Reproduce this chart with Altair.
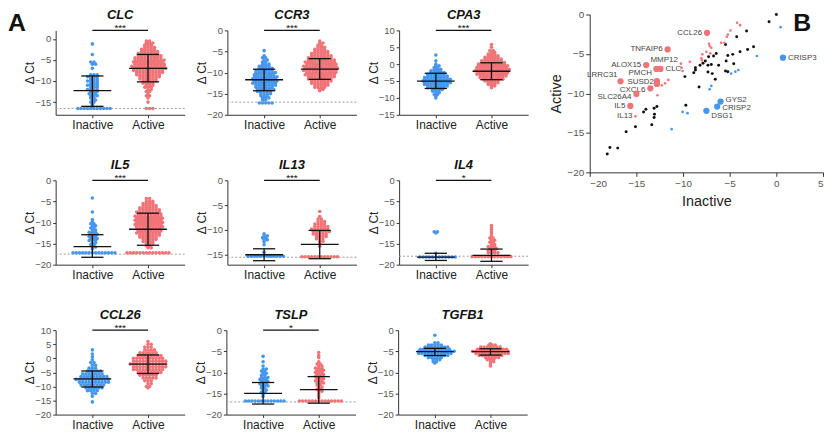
import altair as alt
import pandas as pd

FONT = "Liberation Sans"
BLUE = "#4696eb"
RED = "#f07378"
INK = "#111111"

# ---------------- Panel A data ----------------
GENES = ["CLC", "CCR3", "CPA3", "IL5", "IL13", "IL4", "CCL26", "TSLP", "TGFB1"]
Y_MIN = [-18, -20, -15, -20, -17, -20, -20, -20, -20]
Y_MAX = [2, 0, 10, 0, 0, 0, 10, 0, 0]
Y_TICKS = [
    [-15, -10, -5, 0],
    [-20, -15, -10, -5, 0],
    [-15, -10, -5, 0, 5, 10],
    [-20, -15, -10, -5, 0],
    [-15, -10, -5, 0],
    [-20, -15, -10, -5, 0],
    [-20, -15, -10, -5, 0, 5, 10],
    [-20, -15, -10, -5, 0],
    [-20, -15, -10, -5, 0],
]
LOD = [-16.5, -17, None, -17.5, -15.5, -18, None, -17, None]
SIG = ["***", "***", "***", "***", "***", "*", "***", "*", ""]

MEAN_IN = [-12.3, -11.7, -5.0, -15.7, -15.0, -18.2, -7.3, -15.0, -5.1]
SD_UP_IN = [-8.8, -9.2, -2.7, -12.9, -13.8, -17.3, -4.5, -12.4, -4.3]
SD_LO_IN = [-16.0, -14.3, -7.2, -18.25, -16.2, -19.0, -10.2, -17.5, -6.0]
MEAN_AC = [-7.0, -9.2, -2.1, -11.6, -12.9, -17.8, -2.1, -14.1, -5.1]
SD_UP_AC = [-3.7, -6.7, 0.4, -7.8, -10.1, -16.3, 1.2, -11.0, -4.4]
SD_LO_AC = [-10.2, -11.6, -4.6, -15.4, -15.8, -19.2, -5.4, -17.3, -5.9]

# (delta Ct level, number of samples at that level)
CLC_IN = [(-1.2, 1), (-3.7, 1), (-5.5, 2), (-6.0, 2), (-7.0, 1), (-8.5, 3), (-9.0, 4), (-9.5, 3), (-10.0, 4),
          (-10.5, 3), (-11.0, 4), (-11.5, 3), (-12.0, 4), (-12.5, 3), (-13.0, 3), (-13.5, 3), (-14.0, 2),
          (-14.5, 2), (-15.0, 2), (-15.5, 1), (-16.0, 1), (-16.5, 11)]
CLC_AC = [(-0.5, 2), (-1.0, 3), (-1.5, 3), (-2.0, 4), (-2.5, 5), (-3.0, 6), (-3.5, 7), (-4.0, 8), (-4.5, 9),
          (-5.0, 10), (-5.5, 10), (-6.0, 10), (-6.5, 11), (-7.0, 11), (-7.5, 10), (-8.0, 9), (-8.5, 8),
          (-9.0, 7), (-9.5, 6), (-10.0, 5), (-10.5, 4), (-11.0, 3), (-11.5, 3), (-12.0, 2), (-12.5, 2),
          (-13.0, 1), (-13.5, 2), (-14.0, 1), (-15.0, 1), (-16.5, 3)]
CCR3_IN = [(-4.8, 1), (-6.0, 1), (-6.5, 2), (-7.0, 2), (-7.5, 2), (-8.0, 3), (-8.5, 4), (-9.0, 5), (-9.5, 6),
           (-10.0, 7), (-10.5, 7), (-11.0, 8), (-11.5, 8), (-12.0, 8), (-12.5, 8), (-13.0, 7), (-13.5, 6),
           (-14.0, 6), (-14.5, 5), (-15.0, 4), (-15.5, 3), (-16.0, 3), (-16.5, 2), (-17.2, 5)]
CCR3_AC = [(-2.5, 1), (-3.0, 2), (-3.5, 2), (-4.0, 3), (-4.5, 4), (-5.0, 5), (-5.5, 6), (-6.0, 7), (-6.5, 8),
           (-7.0, 9), (-7.5, 10), (-8.0, 10), (-8.5, 11), (-9.0, 11), (-9.5, 11), (-10.0, 10), (-10.5, 10),
           (-11.0, 9), (-11.5, 8), (-12.0, 7), (-12.5, 6), (-13.0, 5), (-13.5, 4), (-14.0, 2), (-14.3, 1)]
CPA3_IN = [(2.7, 1), (1.0, 1), (0.0, 1), (-0.5, 2), (-1.0, 2), (-1.5, 3), (-2.0, 4), (-2.5, 5), (-3.0, 6),
           (-3.5, 7), (-4.0, 8), (-4.5, 9), (-5.0, 9), (-5.5, 9), (-6.0, 8), (-6.5, 7), (-7.0, 6), (-7.5, 4),
           (-8.0, 3), (-8.5, 2), (-9.0, 2), (-9.5, 1), (-10.0, 1)]
CPA3_AC = [(5.8, 1), (5.0, 1), (4.0, 2), (3.5, 2), (3.0, 3), (2.5, 4), (2.0, 5), (1.5, 6), (1.0, 7), (0.5, 8),
           (0.0, 9), (-0.5, 10), (-1.0, 10), (-1.5, 11), (-2.0, 11), (-2.5, 10), (-3.0, 10), (-3.5, 9),
           (-4.0, 8), (-4.5, 7), (-5.0, 5), (-5.5, 4), (-6.0, 3), (-6.5, 2), (-7.0, 1)]
IL5_IN = [(-4.2, 1), (-7.5, 1), (-9.3, 1), (-9.8, 1), (-10.3, 2), (-10.8, 2), (-11.3, 2), (-11.8, 2), (-12.3, 3),
          (-12.8, 3), (-13.3, 3), (-13.8, 3), (-14.3, 3), (-14.8, 2), (-15.3, 2), (-15.8, 2), (-16.3, 1),
          (-17.2, 14)]
IL5_AC = [(-4.3, 2), (-5.0, 3), (-5.5, 4), (-6.0, 5), (-6.5, 6), (-7.0, 7), (-7.5, 8), (-8.0, 8), (-8.5, 9),
          (-9.0, 9), (-9.5, 9), (-10.0, 9), (-10.5, 9), (-11.0, 9), (-11.5, 8), (-12.0, 8), (-12.5, 8),
          (-13.0, 7), (-13.5, 6), (-14.0, 5), (-14.5, 4), (-15.0, 3), (-15.5, 2), (-16.0, 2), (-17.2, 14)]
IL13_IN = [(-10.8, 1), (-11.2, 2), (-11.6, 2), (-12.0, 2), (-12.4, 1), (-13.0, 1), (-14.5, 1), (-15.3, 12)]
IL13_AC = [(-6.3, 1), (-7.3, 1), (-7.8, 2), (-8.3, 3), (-8.8, 4), (-9.3, 5), (-9.8, 6), (-10.3, 6), (-10.8, 5),
           (-11.3, 4), (-11.8, 3), (-12.3, 2), (-12.8, 1), (-13.3, 1), (-15.4, 12)]
IL4_IN = [(-12.2, 2), (-12.5, 1), (-17.3, 1), (-18.2, 12)]
IL4_AC = [(-10.7, 1), (-11.2, 1), (-11.7, 1), (-12.2, 1), (-12.7, 1), (-13.2, 1), (-13.7, 2), (-14.2, 2),
          (-14.7, 2), (-15.2, 2), (-15.7, 3), (-16.2, 3), (-16.7, 3), (-17.2, 4), (-18.1, 13)]
CCL26_IN = [(3.0, 1), (1.5, 1), (0.5, 1), (-0.5, 1), (-1.5, 2), (-2.5, 2), (-3.5, 3), (-4.5, 5), (-5.5, 7),
            (-6.5, 9), (-7.5, 11), (-8.5, 10), (-9.5, 8), (-10.5, 6), (-11.5, 4), (-12.5, 2), (-13.5, 1),
            (-15.5, 1)]
CCL26_AC = [(6.0, 1), (5.0, 2), (4.0, 3), (3.0, 4), (2.0, 6), (1.0, 8), (0.0, 10), (-1.0, 11), (-2.0, 12),
            (-3.0, 11), (-4.0, 10), (-5.0, 8), (-6.0, 6), (-7.0, 5), (-8.0, 3), (-9.0, 2), (-10.0, 2),
            (-10.5, 1)]
TSLP_IN = [(-6.2, 1), (-7.5, 1), (-8.5, 1), (-9.2, 2), (-9.7, 2), (-10.2, 2), (-10.7, 2), (-11.2, 3), (-11.7, 3),
           (-12.2, 3), (-12.7, 3), (-13.2, 3), (-13.7, 2), (-14.2, 2), (-14.7, 2), (-15.2, 1), (-15.7, 1),
           (-16.8, 13)]
TSLP_AC = [(-5.3, 1), (-6.0, 1), (-6.5, 1), (-7.5, 1), (-8.0, 2), (-8.5, 2), (-9.0, 3), (-9.5, 3), (-10.0, 3),
           (-10.5, 3), (-11.0, 3), (-11.5, 3), (-12.0, 3), (-12.5, 3), (-13.0, 2), (-13.5, 2), (-14.0, 2),
           (-14.5, 2), (-15.0, 1), (-15.5, 1), (-16.0, 1), (-16.8, 14)]
TGFB1_IN = [(-1.2, 1), (-3.0, 2), (-3.5, 5), (-4.0, 8), (-4.5, 10), (-5.0, 12), (-5.5, 11), (-6.0, 8), (-6.5, 5),
            (-7.0, 3), (-7.5, 2), (-7.8, 1)]
TGFB1_AC = [(-3.2, 1), (-3.5, 3), (-4.0, 7), (-4.5, 10), (-5.0, 12), (-5.5, 11), (-6.0, 8), (-6.5, 5), (-7.0, 3),
            (-7.5, 2), (-8.0, 1), (-8.5, 1)]

POINTS_IN = [CLC_IN, CCR3_IN, CPA3_IN, IL5_IN, IL13_IN, IL4_IN, CCL26_IN, TSLP_IN, TGFB1_IN]
POINTS_AC = [CLC_AC, CCR3_AC, CPA3_AC, IL5_AC, IL13_AC, IL4_AC, CCL26_AC, TSLP_AC, TGFB1_AC]

# ---------------- Panel B data ----------------
B_BLACK_X = [0, -0.78, -3.19, -4.25, -5.45, -2.44, -3.08, -3.89, -4.67, -5.2, -6.44, -6.73, -7.26, -7.61, -7.86,
             -7.33, -6.97, -8.18, -8.67, -8.67, -8.85, -7.33, -6.87, -6.19, -5.38, -4.57, -5.45, -5.2, -6.55,
             -9.8, -8.28, -9.7, -12.8, -13.1, -13.06, -13.1, -13.98, -14.23, -15.1, -13.35, -16.1, -17.84,
             -17.0, -18.12]
B_BLACK_Y = [0, -0.93, -2.1, -2.82, -3.79, -4.08, -4.42, -4.72, -5.05, -5.18, -4.93, -5.26, -5.35, -5.89, -6.19,
             -6.44, -6.32, -6.44, -6.74, -7.03, -7.37, -7.28, -7.49, -6.44, -5.89, -6.23, -7.16, -7.24, -8.21,
             -7.87, -9.18, -11.5, -11.66, -11.87, -12.63, -13.05, -12.0, -12.34, -14.23, -13.98, -14.86, -16.84,
             -16.93, -17.68]
B_PINK_X = [-4.21, -3.89, -4.92, -5.2, -5.31, -5.91, -5.56, -7.22, -7.15, -6.97, -7.5, -7.08, -7.93, -8.04,
            -7.97, -9.27, -10.23, -10.16, -10.05, -11.58, -11.93, -12.28, -12.74]
B_PINK_Y = [-1.05, -1.35, -2.02, -2.53, -2.82, -3.58, -3.58, -3.71, -4.0, -4.21, -4.72, -4.93, -5.05, -5.56,
            -5.81, -5.98, -6.23, -6.74, -7.16, -8.29, -8.72, -8.97, -10.23]
B_BLUE_X = [0.46, -2.09, -4.07, -4.39, -4.85, -6.97, -7.15, -10.05, -9.52, -11.22]
B_BLUE_Y = [-1.6, -5.26, -7.03, -7.24, -7.49, -9.05, -9.47, -12.34, -12.5, -14.53]
B_GENES = ["CCL26", "TNFAIP6", "ALOX15", "MMP12", "CLC", "PMCH", "SUSD2", "LRRC31", "CXCL6", "SLC26A4", "IL5",
           "IL13", "GYS2", "CRISP2", "DSG1", "CRISP3"]
B_GENE_X = [-7.43, -11.65, -13.95, -12.85, -12.42, -12.8, -12.8, -16.7, -13.5, -15.0, -15.65, -15.1, -5.98,
            -6.34, -7.5, 0.71]
B_GENE_Y = [-2.32, -4.42, -6.4, -6.9, -6.9, -8.45, -8.8, -8.46, -9.35, -10.06, -11.58, -12.9, -11.03, -11.66,
            -12.2, -5.47]
B_GENE_DIR = ["up", "up", "up", "up", "up", "up", "up", "up", "up", "up", "up", "up", "down", "down", "down",
              "down"]

# ---------------- styling ----------------
W = 130
TOP = 21          # room above each small plot for its title and significance mark
H = 85            # height of the axis part of each small plot
PH = TOP + H
BW = 235
B_TOP = 5
BH = B_TOP + 159
X_DOM = [-0.66, 1.66]
STEP = 0.058
MEAN_HALF, CAP_HALF = 0.34, 0.2
SMALL_LABELLED = {"IL13"}
# label placement: (align, dx, dy)
LABEL_STYLE = {
    "CCL26": ("right", -5, 0), "TNFAIP6": ("right", -5, 0), "ALOX15": ("right", -5, 0),
    "MMP12": ("left", -6, -9), "CLC": ("left", 5, 0), "PMCH": ("right", -5, -8), "SUSD2": ("right", -3, -2),
    "LRRC31": ("right", -3, -6), "CXCL6": ("right", -5, 1.5), "SLC26A4": ("right", -5, 3),
    "IL5": ("right", -5, 0.5), "IL13": ("right", -3, 0), "GYS2": ("left", 5, -1.5), "CRISP2": ("left", 5, 1.5),
    "DSG1": ("left", 5, 5), "CRISP3": ("left", 5, 0),
}


def swarm(levels, g, name):
    rows = []
    for i, (v, c) in enumerate(levels):
        stag = STEP * 0.5 if (i % 2 and c > 1) else 0.0
        for k in range(c):
            rows.append((g + (k - (c - 1) / 2) * STEP + stag, v, name))
    return rows


def panel(i):
    xs = alt.Scale(domain=X_DOM, nice=False, zero=False)
    ys = alt.Scale(domain=[Y_MIN[i], Y_MAX[i]], range=[PH, TOP], nice=False, zero=False)
    xax = alt.Axis(title=None, values=[0, 1], labelExpr="datum.value == 0 ? 'Inactive' : 'Active'",
                   tickSize=3, labelFontSize=12, labelColor="#222", labelPadding=2, grid=False,
                   domainColor="#333", tickColor="#333", labelFont=FONT, labelFlush=False)
    yax = alt.Axis(title="Δ Ct", values=Y_TICKS[i], tickSize=3, labelFontSize=9.5, labelColor="#555",
                   labelPadding=2, grid=False, domainColor="#333", tickColor="#333", titleFontSize=12,
                   titleFontWeight="normal", titleColor="#222", titlePadding=3, minExtent=16, maxExtent=16,
                   labelFont=FONT, titleFont=FONT, titleY=TOP + H / 2)

    def X(f):
        return alt.X(f"{f}:Q", scale=xs, axis=xax)

    def Y(f):
        return alt.Y(f"{f}:Q", scale=ys, axis=yax)

    pts = pd.DataFrame(swarm(POINTS_IN[i], 0, "Inactive") + swarm(POINTS_AC[i], 1, "Active"),
                       columns=["x", "y", "g"])
    layers = []
    if LOD[i] is not None:
        layers.append(alt.Chart(pd.DataFrame({"y": [LOD[i]]})).mark_rule(
            color="#9a9a9a", strokeDash=[2, 2], strokeWidth=1).encode(
            y=Y("y"), x=alt.value(0), x2=alt.value(W)))
    layers.append(alt.Chart(pts).mark_circle(size=13, opacity=1).encode(
        x=X("x"), y=Y("y"),
        color=alt.Color("g:N", scale=alt.Scale(domain=["Inactive", "Active"], range=[BLUE, RED]), legend=None)))
    eb = pd.DataFrame({"x": [0, 1], "mean": [MEAN_IN[i], MEAN_AC[i]], "up": [SD_UP_IN[i], SD_UP_AC[i]],
                       "lo": [SD_LO_IN[i], SD_LO_AC[i]]})
    eb["xl"] = eb["x"] - MEAN_HALF
    eb["xr"] = eb["x"] + MEAN_HALF
    eb["cl"] = eb["x"] - CAP_HALF
    eb["cr"] = eb["x"] + CAP_HALF
    rule = alt.Chart(eb).mark_rule(color=INK, strokeWidth=1.3)
    layers += [
        rule.encode(x=X("x"), y=Y("up"), y2=alt.Y2("lo")),
        rule.encode(x=X("xl"), x2=alt.X2("xr"), y=Y("mean")),
        rule.encode(x=X("cl"), x2=alt.X2("cr"), y=Y("up")),
        rule.encode(x=X("cl"), x2=alt.X2("cr"), y=Y("lo")),
    ]
    if SIG[i]:
        sg = pd.DataFrame({"x0": [0], "x1": [1], "y": [Y_MAX[i]], "xm": [0.5], "sig": [SIG[i]]})
        layers.append(alt.Chart(sg).mark_rule(color=INK, strokeWidth=1.3).encode(
            x=X("x0"), x2=alt.X2("x1"), y=Y("y")))
        layers.append(alt.Chart(sg).mark_text(fontSize=10, baseline="bottom", dy=3, color=INK, font=FONT).encode(
            x=X("xm"), y=Y("y"), text=alt.Text("sig:N")))
    layers.append(alt.Chart(pd.DataFrame({"t": [GENES[i]]})).mark_text(
        fontSize=13, fontWeight="bold", fontStyle="italic", align="center", baseline="top", color=INK,
        font=FONT).encode(x=alt.value(W / 2), y=alt.value(0), text=alt.Text("t:N")))
    if i == 0:
        layers.append(alt.Chart(pd.DataFrame({"t": ["A"]})).mark_text(
            fontSize=25, fontWeight="bold", align="left", baseline="top", color=INK, font=FONT).encode(
            x=alt.value(-48), y=alt.value(2), text=alt.Text("t:N")))
    return alt.layer(*layers).properties(width=W, height=PH)


def panel_b():
    xs = alt.Scale(domain=[-20, 5], nice=False, zero=False)
    ys = alt.Scale(domain=[-20, 0], range=[BH, B_TOP], nice=False, zero=False)
    xax = alt.Axis(title="Inactive", values=[-20, -15, -10, -5, 0, 5], tickSize=4, labelFontSize=10,
                   labelColor="#555", labelPadding=2, grid=False, domainColor="#333", tickColor="#333",
                   titleFontSize=14.5, titleFontWeight="normal", titleColor="#222", titlePadding=6,
                   labelFont=FONT, titleFont=FONT)
    yax = alt.Axis(title="Active", values=[-20, -15, -10, -5, 0], tickSize=4, labelFontSize=10,
                   labelColor="#555", labelPadding=2, grid=False, domainColor="#333", tickColor="#333",
                   titleFontSize=14.5, titleFontWeight="normal", titleColor="#222", titlePadding=4,
                   minExtent=22, maxExtent=22, labelFont=FONT, titleFont=FONT, titleY=B_TOP + 159 / 2)

    def enc(ch):
        return ch.encode(x=alt.X("x:Q", scale=xs, axis=xax), y=alt.Y("y:Q", scale=ys, axis=yax))

    layers = [
        enc(alt.Chart(pd.DataFrame({"x": B_BLACK_X, "y": B_BLACK_Y})).mark_circle(size=9, color=INK, opacity=1)),
        enc(alt.Chart(pd.DataFrame({"x": B_PINK_X, "y": B_PINK_Y})).mark_circle(size=7, color=RED, opacity=1)),
        enc(alt.Chart(pd.DataFrame({"x": B_BLUE_X, "y": B_BLUE_Y})).mark_circle(size=7, color=BLUE, opacity=1)),
    ]
    for name, gx, gy, d in zip(B_GENES, B_GENE_X, B_GENE_Y, B_GENE_DIR):
        col = RED if d == "up" else BLUE
        sz = 7 if name in SMALL_LABELLED else 40
        df = pd.DataFrame({"x": [gx], "y": [gy], "t": [name]})
        layers.append(enc(alt.Chart(df).mark_circle(size=sz, color=col, opacity=1)))
        al, dx, dy = LABEL_STYLE[name]
        layers.append(alt.Chart(df).mark_text(align=al, dx=dx, dy=dy, baseline="middle", fontSize=8,
                                              color="#444", font=FONT).encode(
            x=alt.X("x:Q", scale=xs, axis=xax), y=alt.Y("y:Q", scale=ys, axis=yax), text=alt.Text("t:N")))
    layers.append(alt.Chart(pd.DataFrame({"t": ["B"]})).mark_text(
        fontSize=25, fontWeight="bold", align="left", baseline="top", color=INK, font=FONT).encode(
        x=alt.value(205), y=alt.value(2), text=alt.Text("t:N")))
    return alt.layer(*layers).properties(width=BW, height=BH)


rows = [alt.hconcat(*[panel(3 * r + c) for c in range(3)], spacing=10).resolve_scale(x="independent",
                                                                                       y="independent")
        for r in range(3)]
grid = alt.vconcat(*rows, spacing=29).resolve_scale(x="independent", y="independent")
chart = alt.hconcat(grid, panel_b(), spacing=20, padding=0).resolve_scale(x="independent", y="independent")
chart = chart.configure(font=FONT).configure_view(stroke=None)

chart.save("out.html", embed_options={"renderer": "svg", "actions": False})
